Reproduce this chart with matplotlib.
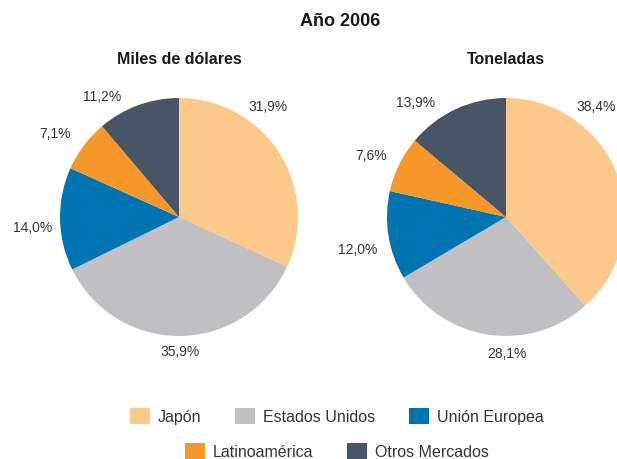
import matplotlib
matplotlib.use('Agg')
import matplotlib.pyplot as plt

plt.rcParams['font.family'] = ['Liberation Sans', 'DejaVu Sans']

categorias = ['Japón', 'Estados Unidos', 'Unión Europea', 'Latinoamérica', 'Otros Mercados']
miles_dolares = [31.9, 35.9, 14.0, 7.1, 11.2]
toneladas = [38.4, 28.1, 12.0, 7.6, 13.9]
colores = ['#FDC98B', '#C0C0C2', '#0074B0', '#F6972A', '#485565']

# posiciones de las etiquetas (en radios, relativas al centro)
pos_izq = [(0.75, 0.93), (0.01, -1.13), (-1.23, -0.08), (-1.04, 0.71), (-0.65, 1.02)]
pos_der = [(0.76, 0.93), (0.01, -1.14), (-1.25, -0.27), (-1.13, 0.52), (-0.76, 0.97)]

W, H = 617, 460
fig = plt.figure(figsize=(W / 100, H / 100), dpi=100)
R = 119


def dibujar_pie(cx, cy, valores, titulo, posiciones):
    ax = fig.add_axes([(cx - R) / W, (H - cy - R) / H, 2 * R / W, 2 * R / H])
    wedges, _ = ax.pie(valores, colors=colores, startangle=90, counterclock=False,
                       radius=1, wedgeprops=dict(linewidth=0))
    ax.set_xlim(-1, 1)
    ax.set_ylim(-1, 1)
    ax.set_aspect('equal')
    ax.axis('off')
    for v, (px, py) in zip(valores, posiciones):
        ax.text(px, py, f'{v:.1f}%'.replace('.', ','), ha='center', va='center',
                fontsize=10, color='#333333')
    ax.text(0, 1.33, titulo, ha='center', va='center', fontsize=11.5,
            fontweight='bold', color='#1a1a1a')
    return wedges


wedges = dibujar_pie(179, 218, miles_dolares, 'Miles de dólares', pos_izq)
dibujar_pie(506, 218, toneladas, 'Toneladas', pos_der)

fig.text(0.551, 1 - 22 / H, 'Año 2006', ha='center', va='center', fontsize=13,
         fontweight='bold', color='#1a1a1a')

ley_kw = dict(frameon=False, fontsize=11.5, handlelength=1.25, handleheight=1.25,
              handletextpad=0.5, columnspacing=2.1, borderpad=0, labelcolor='#333333')
ley1 = fig.legend(wedges[:3], categorias[:3], loc='center', ncol=3,
                  bbox_to_anchor=(0.546, 1 - 417 / H), **ley_kw)
fig.legend(wedges[3:], categorias[3:], loc='center', ncol=2,
           bbox_to_anchor=(0.546, 1 - 452 / H), **ley_kw)

fig.savefig('out.png', dpi=100)
